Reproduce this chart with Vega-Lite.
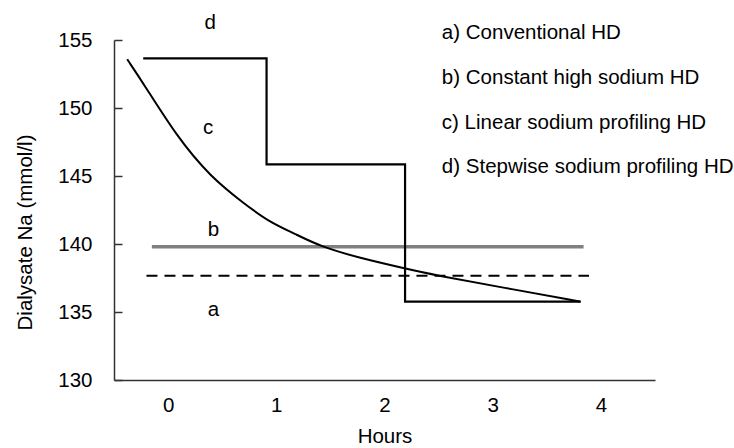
{
  "$schema": "https://vega.github.io/schema/vega-lite/v6.json",
  "width": 541,
  "height": 340,
  "autosize": {"type": "none"},
  "padding": {"left": 114, "top": 40, "right": 79, "bottom": 68},
  "background": "white",
  "config": {
    "view": {"stroke": null},
    "font": "Liberation Sans",
    "axis": {"grid": false, "labelFont": "Liberation Sans", "titleFont": "Liberation Sans", "labelFontSize": 20.5, "titleFontSize": 20.5, "titleFontWeight": "normal", "labelColor": "#000", "titleColor": "#000", "domainColor": "#333", "domainWidth": 1.5, "tickColor": "#333", "tickWidth": 1.5}
  },
  "datasets": {
    "lines": [
      {"series": "c", "x": -0.378, "y": 153.58, "o": 1},
      {"series": "c", "x": -0.229, "y": 151.82, "o": 2},
      {"series": "c", "x": 0.081, "y": 147.89, "o": 3},
      {"series": "c", "x": 0.390, "y": 144.95, "o": 4},
      {"series": "c", "x": 0.699, "y": 142.99, "o": 5},
      {"series": "c", "x": 0.931, "y": 141.64, "o": 6},
      {"series": "c", "x": 1.163, "y": 140.79, "o": 7},
      {"series": "c", "x": 1.411, "y": 139.80, "o": 8},
      {"series": "c", "x": 1.782, "y": 138.95, "o": 9},
      {"series": "c", "x": 2.184, "y": 138.21, "o": 10},
      {"series": "c", "x": 2.459, "y": 137.72, "o": 11},
      {"series": "c", "x": 3.081, "y": 136.82, "o": 12},
      {"series": "c", "x": 3.814, "y": 135.76, "o": 13},
      {"series": "d", "x": -0.23, "y": 153.65, "o": 1},
      {"series": "d", "x": 0.91, "y": 153.65, "o": 2},
      {"series": "d", "x": 0.91, "y": 145.86, "o": 3},
      {"series": "d", "x": 2.19, "y": 145.86, "o": 4},
      {"series": "d", "x": 2.19, "y": 135.76, "o": 5},
      {"series": "d", "x": 3.81, "y": 135.76, "o": 6},
      {"series": "b", "x": -0.15, "y": 139.8, "o": 1},
      {"series": "b", "x": 3.84, "y": 139.8, "o": 2},
      {"series": "a", "x": -0.2, "y": 137.67, "o": 1},
      {"series": "a", "x": 3.89, "y": 137.67, "o": 2}
    ],
    "labels": [
      {"t": "d", "x": 0.39, "y": 156.25},
      {"t": "c", "x": 0.37, "y": 148.53},
      {"t": "b", "x": 0.42, "y": 141.03},
      {"t": "a", "x": 0.42, "y": 135.15}
    ],
    "legend": [
      {"t": "a) Conventional HD", "x": 2.53, "y": 155.51},
      {"t": "b) Constant high sodium HD", "x": 2.53, "y": 152.21},
      {"t": "c) Linear sodium profiling HD", "x": 2.53, "y": 148.9},
      {"t": "d) Stepwise sodium profiling HD", "x": 2.53, "y": 145.66}
    ]
  },
  "encoding": {
    "x": {"field": "x", "type": "quantitative", "scale": {"domain": [-0.5, 4.5], "nice": false, "zero": false},
      "axis": {"title": "Hours", "values": [0, 1, 2, 3, 4], "ticks": false, "labelPadding": 15, "titlePadding": 11, "format": "d"}},
    "y": {"field": "y", "type": "quantitative", "scale": {"domain": [130, 155], "nice": false, "zero": false},
      "axis": {"title": "Dialysate Na (mmol/l)", "values": [130, 135, 140, 145, 150, 155], "tickSize": -8, "labelPadding": 30, "titleX": -89, "titleY": 192, "titleAngle": -90, "titleAlign": "center", "titleBaseline": "middle"}}
  },
  "layer": [
    {
      "data": {"name": "lines"},
      "transform": [{"filter": "datum.series === 'b'"}],
      "mark": {"type": "line", "color": "#808080", "strokeWidth": 3.5, "strokeCap": "butt"},
      "encoding": {"order": {"field": "o", "type": "quantitative"}}
    },
    {
      "data": {"name": "lines"},
      "transform": [{"filter": "datum.series === 'a'"}],
      "mark": {"type": "line", "color": "#000", "strokeWidth": 2, "strokeDash": [11, 7]},
      "encoding": {"order": {"field": "o", "type": "quantitative"}}
    },
    {
      "data": {"name": "lines"},
      "transform": [{"filter": "datum.series === 'd'"}],
      "mark": {"type": "line", "color": "#000", "strokeWidth": 2.2, "strokeJoin": "miter"},
      "encoding": {"order": {"field": "o", "type": "quantitative"}}
    },
    {
      "data": {"name": "lines"},
      "transform": [{"filter": "datum.series === 'c'"}],
      "mark": {"type": "line", "color": "#000", "strokeWidth": 2, "interpolate": "basis"},
      "encoding": {"order": {"field": "o", "type": "quantitative"}}
    },
    {
      "data": {"name": "labels"},
      "mark": {"type": "text", "font": "Liberation Sans", "fontSize": 20.5, "color": "#000", "align": "center", "baseline": "middle"},
      "encoding": {"text": {"field": "t"}}
    },
    {
      "data": {"name": "legend"},
      "mark": {"type": "text", "font": "Liberation Sans", "fontSize": 20.5, "color": "#000", "align": "left", "baseline": "middle"},
      "encoding": {"text": {"field": "t"}}
    }
  ]
}
